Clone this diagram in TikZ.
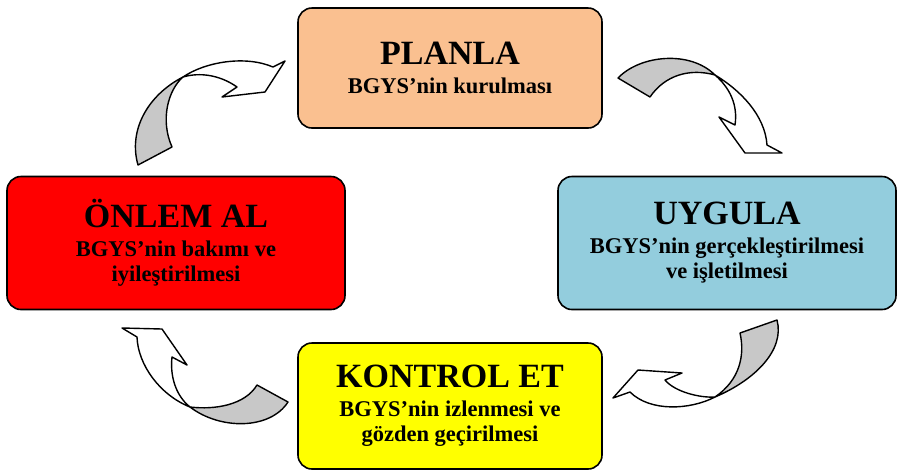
\documentclass[tikz,border=0pt]{standalone}
\usepackage{fontspec}
\setmainfont{Liberation Serif}
\definecolor{planfill}{HTML}{FAC090}
\definecolor{uygfill}{HTML}{93CDDD}
\definecolor{onlemfill}{HTML}{FF0000}
\definecolor{kontfill}{HTML}{FFFF00}
\definecolor{backgray}{HTML}{C8C8C8}
\newcommand{\baslik}[1]{{\fontsize{34}{34}\selectfont #1}}

\begin{document}
\begin{tikzpicture}[x=1pt,y=-1pt,
  stagebox/.style={draw=black,line width=1.6pt,rounded corners=14pt,align=center,
    font=\fontsize{22.5}{25}\selectfont\bfseries,inner sep=0pt},
  backside/.style={draw=black,line width=1.4pt,line join=round,fill=backgray},
  frontside/.style={draw=black,line width=1.4pt,line join=round,fill=white}]
 \useasboundingbox (0,0) rectangle (905,475);
 \node[stagebox,fill=planfill,minimum width=304pt,minimum height=120pt] (plan) at (450,68)
   {\baslik{PLANLA}\\[4pt] BGYS’nin kurulması};
 \node[stagebox,fill=onlemfill,minimum width=338pt,minimum height=133pt] (onlem) at (176,243)
   {\baslik{ÖNLEM AL}\\[4pt] BGYS’nin bakımı ve\\ iyileştirilmesi};
 \node[stagebox,fill=uygfill,minimum width=338pt,minimum height=133pt] (uygula) at (727,243)
   {\baslik{UYGULA}\\[4pt] BGYS’nin gerçekleştirilmesi\\ ve işletilmesi};
 \node[stagebox,fill=kontfill,minimum width=304pt,minimum height=126pt] (kontrol) at (450,406)
   {\baslik{KONTROL ET}\\[4pt] BGYS’nin izlenmesi ve\\ gözden geçirilmesi};
 \draw[backside] (138,165) .. controls (128,130) and (148,95) .. (183,77)
   .. controls (168,90) and (160,120) .. (172,147) -- cycle;
 \draw[frontside] (183,77) .. controls (205,62) and (245,55) .. (273,67)
   -- (285,61) -- (265,92) -- (222,97) -- (237,87)
   .. controls (220,75) and (200,72) .. (183,77) -- cycle;
 \draw[backside] (618,78) .. controls (640,55) and (690,50) .. (715,75)
   .. controls (690,68) and (665,75) .. (650,97) -- cycle;
 \draw[frontside] (715,75) .. controls (740,90) and (765,115) .. (767,145)
   -- (782,153) -- (745,153) -- (719,117) -- (735,125)
   .. controls (738,105) and (730,88) .. (715,75) -- cycle;
 \draw[backside] (740,333) .. controls (745,355) and (740,380) .. (715,397)
   .. controls (755,380) and (785,350) .. (777,320) -- cycle;
 \draw[frontside] (715,397) .. controls (690,410) and (650,412) .. (630,392)
   -- (613,398) -- (638,370) -- (682,373) -- (665,380)
   .. controls (675,392) and (700,398) .. (715,397) -- cycle;
 \draw[backside] (257,385) .. controls (245,405) and (215,410) .. (190,407)
   .. controls (220,430) and (270,430) .. (288,402) -- cycle;
 \draw[frontside] (190,407) .. controls (160,395) and (138,365) .. (137,337)
   -- (122,328) -- (162,329) -- (187,365) -- (172,357)
   .. controls (170,375) and (175,395) .. (190,407) -- cycle;
\end{tikzpicture}
\end{document}
